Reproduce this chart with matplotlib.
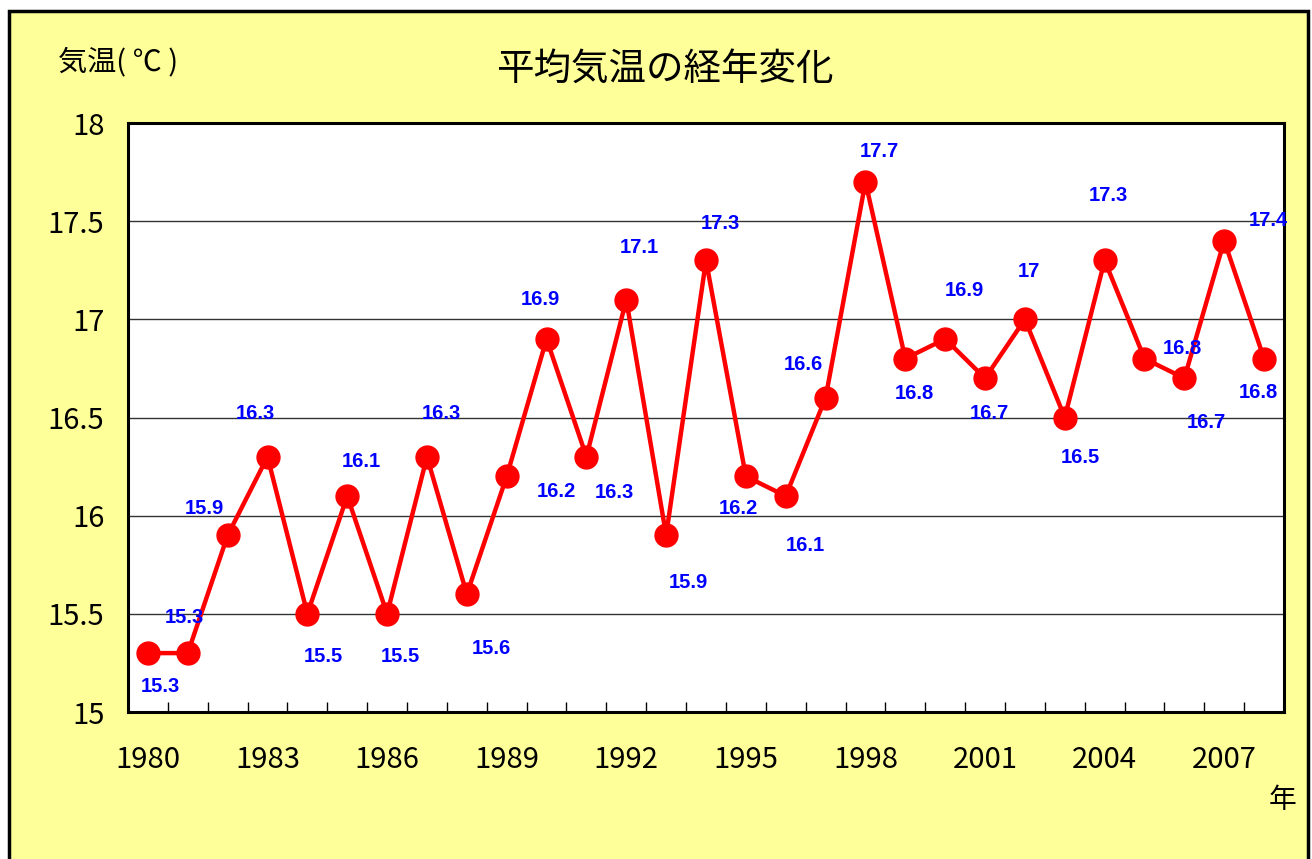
import numpy as np
import matplotlib
matplotlib.use("Agg")
import matplotlib.pyplot as plt
from matplotlib.patches import Rectangle

plt.rcParams['font.family'] = ['Noto Sans CJK JP', 'DejaVu Sans']

# data
years = list(range(1980, 2009))
temps = [15.3, 15.3, 15.9, 16.3, 15.5, 16.1, 15.5, 16.3, 15.6, 16.2,
         16.9, 16.3, 17.1, 15.9, 17.3, 16.2, 16.1, 16.6, 17.7, 16.8,
         16.9, 16.7, 17.0, 16.5, 17.3, 16.8, 16.7, 17.4, 16.8]
value_labels = ['15.3', '15.3', '15.9', '16.3', '15.5', '16.1', '15.5', '16.3', '15.6', '16.2',
                '16.9', '16.3', '17.1', '15.9', '17.3', '16.2', '16.1', '16.6', '17.7', '16.8',
                '16.9', '16.7', '17', '16.5', '17.3', '16.8', '16.7', '17.4', '16.8']
yticks = [15, 15.5, 16, 16.5, 17, 17.5, 18]
ytick_labels = ['15', '15.5', '16', '16.5', '17', '17.5', '18']

# label placement (pixels, dx right / dy down from the point)
label_offsets = [(12, 33), (-3, -36), (-23, -27), (-12, -43), (16, 43), (14, -35),
                 (13, 43), (14, -43), (25, 54), (50, 15), (-6, -39), (28, 36),
                 (13, -52), (22, 47), (14, -37), (-7, 32), (20, 49), (-22, -33),
                 (14, -30), (9, 35), (19, -48), (4, 35), (4, -48), (16, 40),
                 (4, -65), (38, -10), (22, 44), (44, -20), (-6, 34)]

fig = plt.figure(figsize=(13.12, 8.59), dpi=100)
fig.patch.set_facecolor('white')

# yellow chart area with black frame
W, H = 1312., 859.
bg = Rectangle((9 / W, -0.05), (1308 - 9) / W, (859 - 11) / H + 0.05,
               transform=fig.transFigure, facecolor='#FFFF99', edgecolor='black',
               linewidth=2.5, zorder=-1)
fig.patches.append(bg)

ax = fig.add_axes([128 / W, 1 - 712 / H, (1284 - 128) / W, (712 - 123) / H])
ax.set_facecolor('white')

x = np.arange(len(years))
ax.plot(x, temps, color='#FF0000', linewidth=3.2, marker='o', markersize=16.5,
        markerfacecolor='#FF0000', markeredgecolor='#FF0000', zorder=3, clip_on=False)

for i, (v, lab) in enumerate(zip(temps, value_labels)):
    dx, dy = label_offsets[i]
    ax.annotate(lab, (x[i], v), xytext=(dx, -dy), textcoords='offset pixels',
                ha='center', va='center', color='#0000FF', fontsize=14.5,
                fontweight='bold', family='Liberation Sans', zorder=4,
                annotation_clip=False)

ax.set_xlim(-0.5, len(years) - 0.5)
ax.set_ylim(15, 18)
ax.set_yticks(yticks)
ax.set_yticklabels(ytick_labels)
ax.set_xticks(x[::3])
ax.set_xticklabels([str(y) for y in years[::3]])
ax.set_xticks(np.arange(0.5, len(years) - 1, 1), minor=True)

ax.grid(axis='y', color='#333333', linewidth=1)
ax.set_axisbelow(True)
ax.tick_params(axis='y', length=0, pad=17, labelsize=21)
ax.tick_params(axis='x', which='major', length=0, pad=24, labelsize=21)
ax.tick_params(axis='x', which='minor', direction='in', length=7, width=1, color='black')

for s in ax.spines.values():
    s.set_linewidth(2.2)
    s.set_color('black')

fig.text(665 / W, 1 - 69 / H, '平均気温の経年変化', ha='center', va='center', fontsize=27)
fig.text(58 / W, 1 - 62 / H, '気温( ℃ )', ha='left', va='center', fontsize=21)
fig.text(1283 / W, 1 - 800 / H, '年', ha='center', va='center', fontsize=20)

fig.savefig('out.png', dpi=100)
